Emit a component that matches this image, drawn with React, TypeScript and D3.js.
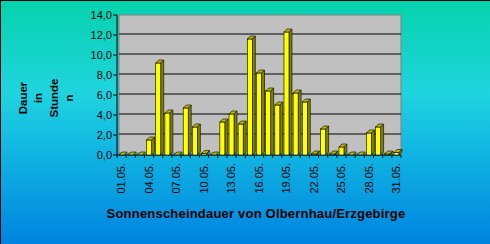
import React from "react";
import * as d3 from "d3";

const days: string[] = Array.from({ length: 31 }, (_, i) => String(i + 1).padStart(2, "0") + ".05.");
const hours: number[] = [0, 0, 0, 1.5, 9.2, 4.2, 0, 4.7, 2.8, 0.15, 0, 3.3, 4.1, 3.1, 11.6, 8.2, 6.4, 5.0, 12.3, 6.2, 5.3, 0.1, 2.6, 0.1, 0.8, 0, 0, 2.2, 2.8, 0.1, 0.25];
const yTicks: number[] = [0, 2, 4, 6, 8, 10, 12, 14];
const yTitleLines: string[] = ["Dauer", "in", "Stunde", "n"];
const title = "Sonnenscheindauer von Olbernhau/Erzgebirge";

const W = 490, H = 244;
const L = 117, R = 401, T = 15, B = 155;

export default function App() {
  const x = d3.scaleBand<string>().domain(days).range([L, R]).padding(0);
  const y = d3.scaleLinear().domain([0, 14]).range([B, T]);
  const fmt = (v: number) => v.toFixed(1).replace(".", ",");
  const bw = 5, dx = 3, dy = 3;
  return (
    <svg width={W} height={H} style={{ position: "absolute", left: 0, top: 0 }} fontFamily="Arial, 'Liberation Sans', sans-serif">
      <defs>
        <linearGradient id="bg" x1="0" y1="0" x2="0" y2="1">
          <stop offset="0" stopColor="#06D3AC" />
          <stop offset="0.38" stopColor="#1FD4DF" />
          <stop offset="0.6" stopColor="#12B8E2" />
          <stop offset="1" stopColor="#0083E0" />
        </linearGradient>
      </defs>
      <rect x={0} y={0} width={W} height={H} fill="url(#bg)" />
      <line x1={0} y1={0.5} x2={W} y2={0.5} stroke="#000" />
      <line x1={0.5} y1={0} x2={0.5} y2={H} stroke="#000" />
      {/* wall */}
      <rect x={L + 2} y={T} width={R - L - 2} height={B - T - 2} fill="#C0C0C0" stroke="#808080" strokeWidth={1} />
      {yTicks.filter(t => t > 0 && t < 14).map(t => (
        <line key={t} x1={L + 2} x2={R} y1={y(t) - 1} y2={y(t) - 1} stroke="#000" strokeWidth={1.2} />
      ))}
      {/* axes */}
      <line x1={L} y1={T} x2={L} y2={B} stroke="#000" />
      <line x1={L} y1={B} x2={R} y2={B} stroke="#000" />
      {yTicks.map(t => (
        <g key={t}>
          <line x1={L - 4} x2={L} y1={y(t)} y2={y(t)} stroke="#000" />
          <text x={L - 5} y={y(t)} dy="0.35em" textAnchor="end" fontSize={11} fill="#000">{fmt(t)}</text>
        </g>
      ))}
      {days.map((d, i) => (
        <line key={"t" + i} x1={x(d)!} x2={x(d)!} y1={B} y2={B + 3} stroke="#000" />
      ))}
      <line x1={R} x2={R} y1={B} y2={B + 3} stroke="#000" />
      {/* bars */}
      {days.map((d, i) => {
        const cx = x(d)! + x.bandwidth() / 2;
        const x0 = cx - bw / 2, x1 = cx + bw / 2;
        const yt = y(hours[i]);
        const top = `M${x0},${yt} L${x0 + dx},${yt - dy} L${x1 + dx},${yt - dy} L${x1},${yt} Z`;
        const side = `M${x1},${yt} L${x1 + dx},${yt - dy} L${x1 + dx},${B - dy} L${x1},${B} Z`;
        return (
          <g key={d} stroke="#000" strokeWidth={0.6}>
            {hours[i] > 0 && <path d={side} fill="#808000" />}
            {hours[i] > 0 && <rect x={x0} y={yt} width={bw} height={B - yt} fill="#FFFF00" />}
            <path d={top} fill="#B8B800" />
          </g>
        );
      })}
      {days.map((d, i) => i % 3 === 0 ? (
        <text key={"l" + i} transform={`translate(${x(d)! + x.bandwidth() / 2},${B + 8}) rotate(-90)`} dy="0.35em" textAnchor="end" fontSize={11} fill="#000">{d}</text>
      ) : null)}
      {yTitleLines.map((s, i) => (
        <text key={s} transform={`translate(${23 + i * 15.3},98) rotate(-90)`} dy="0.35em" textAnchor="middle" fontSize={11.5} fontWeight="bold" fill="#000">{s}</text>
      ))}
      <text x={256} y={218} textAnchor="middle" fontSize={13} letterSpacing={0.2} fontWeight="bold" fill="#000">{title}</text>
    </svg>
  );
}
